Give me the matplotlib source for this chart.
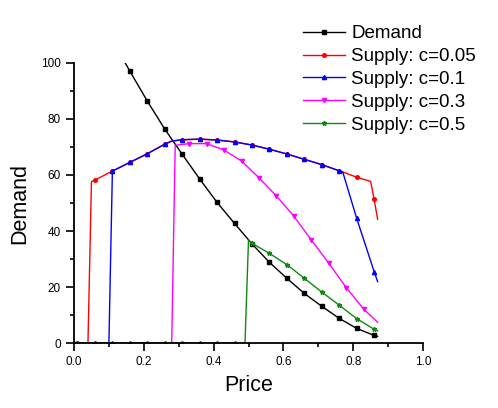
import numpy as np
import matplotlib
matplotlib.use("Agg")
import matplotlib.pyplot as plt
from matplotlib.ticker import MultipleLocator

plt.rcParams['font.family'] = ['Liberation Sans', 'DejaVu Sans']

# demand curve (clipped at the top of the axes)
demand_x = [0.14, 0.16, 0.21, 0.26, 0.31, 0.36, 0.41, 0.46, 0.51, 0.56,
            0.61, 0.66, 0.71, 0.76, 0.81, 0.86, 0.87]
demand_y = [101.5, 97.1, 86.4, 76.4, 67.4, 58.6, 50.2, 42.7, 35.4, 28.8,
            23.1, 17.7, 13.1, 8.8, 5.2, 2.7, 2.4]

# supply c=0.05
s005_x = [0.01, 0.04, 0.05, 0.06, 0.11, 0.16, 0.21, 0.26, 0.28, 0.31, 0.36,
          0.41, 0.46, 0.51, 0.56, 0.61, 0.66, 0.71, 0.76, 0.77, 0.81, 0.85,
          0.86, 0.87]
s005_y = [0, 0, 57.6, 58.2, 61.4, 64.5, 67.6, 71.0, 72.1, 72.6, 72.8,
          72.5, 71.8, 70.7, 69.2, 67.5, 65.6, 63.7, 61.5, 61.1, 59.2, 57.7,
          51.3, 44.2]

# supply c=0.1
s01_x = [0.01, 0.06, 0.10, 0.11, 0.16, 0.21, 0.26, 0.28, 0.31, 0.36, 0.41,
         0.46, 0.51, 0.56, 0.61, 0.66, 0.71, 0.76, 0.77, 0.81, 0.86, 0.87]
s01_y = [0, 0, 0, 61.4, 64.5, 67.6, 71.0, 72.1, 72.6, 72.8, 72.5,
         71.8, 70.7, 69.2, 67.5, 65.6, 63.7, 61.5, 61.1, 44.5, 25.5, 21.9]

# supply c=0.3
s03_x = [0.01, 0.28, 0.29, 0.33, 0.38, 0.43, 0.48, 0.53, 0.58, 0.63, 0.68,
         0.73, 0.78, 0.83, 0.87]
s03_y = [0, 0, 70.6, 71.2, 71.2, 68.9, 65.0, 59.0, 52.5, 45.3, 36.8,
         28.5, 19.8, 12.1, 7.4]

# supply c=0.5
s05_x = [0.01, 0.06, 0.11, 0.16, 0.21, 0.26, 0.31, 0.36, 0.41, 0.46, 0.49,
         0.50, 0.51, 0.56, 0.61, 0.66, 0.71, 0.76, 0.81, 0.86, 0.87]
s05_y = [0, 0, 0, 0, 0, 0, 0, 0, 0, 0, 0,
         36.8, 35.6, 32.0, 28.0, 23.1, 18.2, 13.5, 8.7, 4.9, 4.3]


def marker_mask(xs, offset, skip_zero=False, ys=None):
    xs = np.asarray(xs)
    k = (xs - offset) / 0.05
    mask = np.isclose(k, np.round(k))
    if skip_zero:
        mask &= np.asarray(ys) > 0
    return mask


fig = plt.figure(figsize=(4.98, 4.08), dpi=100)
ax = fig.add_axes([0.1486, 0.1593, 0.7008, 0.6863])

series = [
    ("Demand", demand_x, demand_y, "black", "s", 2.4, marker_mask(demand_x, 0.01)),
    ("Supply: c=0.05", s005_x, s005_y, "#ff0000", "o", 2.6, marker_mask(s005_x, 0.01)),
    ("Supply: c=0.1", s01_x, s01_y, "#0000ff", "^", 3.0, marker_mask(s01_x, 0.01)),
    ("Supply: c=0.3", s03_x, s03_y, "#ff00ff", "v", 3.0, marker_mask(s03_x, 0.03, True, s03_y)),
    ("Supply: c=0.5", s05_x, s05_y, "#118811", "*", 3.4, marker_mask(s05_x, 0.01)),
]

for label, xs, ys, col, mk, ms, mask in series:
    ax.plot(xs, ys, color=col, lw=1.0, marker=mk, markersize=ms,
            markevery=list(mask), label=label)

ax.set_xlim(0, 1.0)
ax.set_ylim(0, 100)
ax.xaxis.set_major_locator(MultipleLocator(0.2))
ax.xaxis.set_minor_locator(MultipleLocator(0.1))
ax.yaxis.set_major_locator(MultipleLocator(20))
ax.yaxis.set_minor_locator(MultipleLocator(10))
ax.xaxis.set_major_formatter(plt.FormatStrFormatter('%.1f'))
ax.tick_params(which='major', direction='out', length=5.5, width=1.2, labelsize=8.5, pad=4)
ax.tick_params(which='minor', direction='out', length=3, width=1.2)
for side in ('top', 'right'):
    ax.spines[side].set_visible(False)
for side in ('left', 'bottom'):
    ax.spines[side].set_linewidth(1.3)

ax.set_xlabel("Price", fontsize=15.5, labelpad=5)
ax.set_ylabel("Demand", fontsize=15.5, labelpad=8)

fig.legend(loc='upper left', bbox_to_anchor=(0.593, 0.957), frameon=False,
           fontsize=13.5, handlelength=2.24, handletextpad=0.35,
           labelspacing=0.31, borderaxespad=0)

fig.savefig("out.png", dpi=100)
